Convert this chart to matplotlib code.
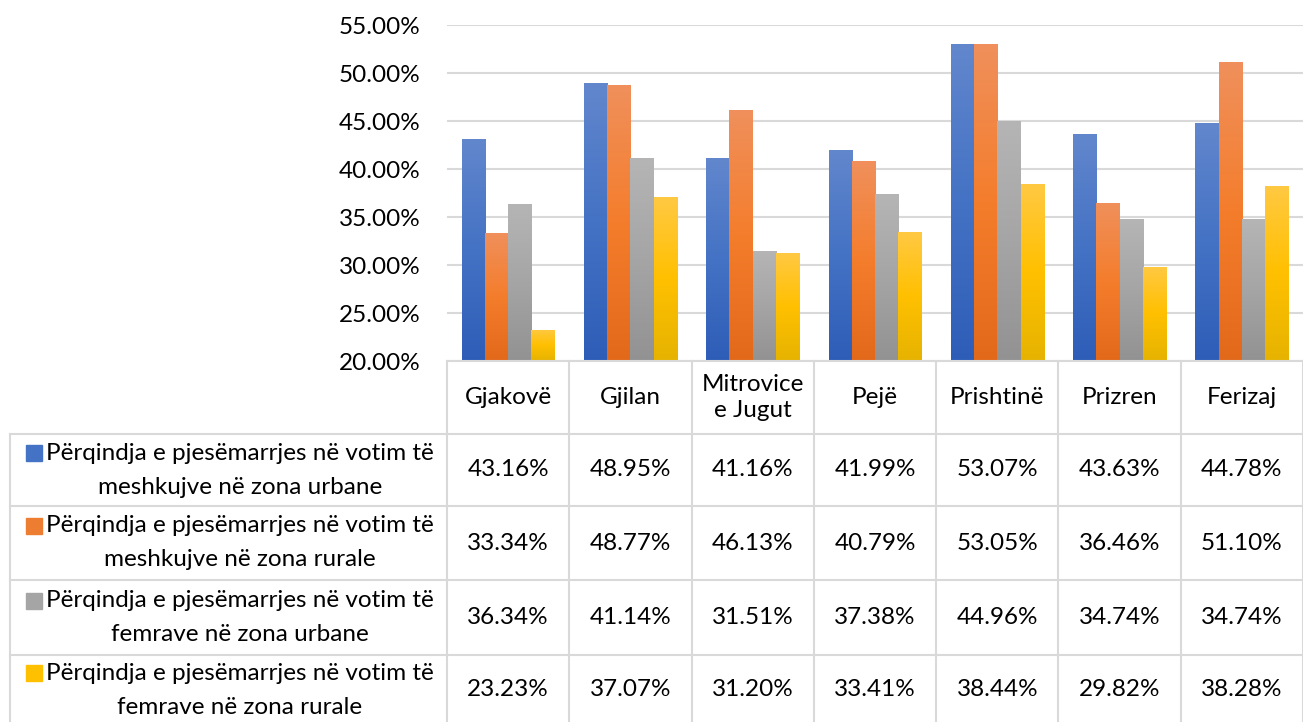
import numpy as np
import matplotlib
matplotlib.use("Agg")
import matplotlib.pyplot as plt
from matplotlib.patches import Rectangle
from matplotlib.colors import LinearSegmentedColormap
from matplotlib.ticker import PercentFormatter

plt.rcParams['font.family'] = ['Lato', 'DejaVu Sans']

cities = ["Gjakovë", "Gjilan", "Mitrovice\ne Jugut", "Pejë", "Prishtinë", "Prizren", "Ferizaj"]
series_names = [
    "Përqindja e pjesëmarrjes në votim të\nmeshkujve në zona urbane",
    "Përqindja e pjesëmarrjes në votim të\nmeshkujve në zona rurale",
    "Përqindja e pjesëmarrjes në votim të\nfemrave në zona urbane",
    "Përqindja e pjesëmarrjes në votim të\nfemrave në zona rurale",
]
men_urban = [0.4316, 0.4895, 0.4116, 0.4199, 0.5307, 0.4363, 0.4478]
men_rural = [0.3334, 0.4877, 0.4613, 0.4079, 0.5305, 0.3646, 0.5110]
women_urban = [0.3634, 0.4114, 0.3151, 0.3738, 0.4496, 0.3474, 0.3474]
women_rural = [0.2323, 0.3707, 0.3120, 0.3341, 0.3844, 0.2982, 0.3828]
series = [men_urban, men_rural, women_urban, women_rural]

# top, middle, bottom colours of each bar gradient
grads = [
    ["#6287cd", "#4472c4", "#2e5db8"],
    ["#f0905c", "#f47d2c", "#e2691a"],
    ["#b5b5b5", "#a5a5a5", "#929292"],
    ["#ffc943", "#ffc000", "#e6b300"],
]
legend_colors = ["#4472c4", "#ed7d31", "#a5a5a5", "#ffc000"]

W, H = 1303, 722
fig = plt.figure(figsize=(W / 100, H / 100), dpi=100)

# pixel layout (origin at top-left)
px_left, px_right = 447, 1303
px_top, px_bottom = 25, 361
ax = fig.add_axes([px_left / W, 1 - px_bottom / H,
                   (px_right - px_left) / W, (px_bottom - px_top) / H])

ymin, ymax = 0.20, 0.55
n = len(cities)
x = np.arange(n)
bw = 0.19
for i, vals in enumerate(series):
    cmap = LinearSegmentedColormap.from_list("g%d" % i, grads[i][::-1])
    grad = np.linspace(0, 1, 256).reshape(-1, 1)
    bars = ax.bar(x + (i - 1.5) * bw, vals, bw, color=legend_colors[i], zorder=2)
    for b, v in zip(bars, vals):
        x0 = b.get_x()
        im = ax.imshow(grad, cmap=cmap, origin="lower", aspect="auto",
                       extent=(x0, x0 + bw, ymin, v), zorder=3)
        im.set_clip_path(b)

fs = 17.5
ax.set_xlim(-0.5, n - 0.5)
ax.set_ylim(ymin, ymax)
ax.set_yticks(np.arange(0.20, 0.551, 0.05))
ax.yaxis.set_major_formatter(PercentFormatter(1.0, decimals=2))
ax.tick_params(axis="y", length=0, pad=19, labelsize=fs)
ax.set_xticks([])
ax.grid(axis="y", color="#d9d9d9", lw=1.5, zorder=0)
ax.set_axisbelow(True)
for s in ax.spines.values():
    s.set_visible(False)


def fx(px):
    return px / W


def fy(py):
    return 1 - py / H


line_kw = dict(color="#d9d9d9", lw=1.5, transform=fig.transFigure)
col_w = (px_right - px_left) / n
col_edges = [px_left + k * col_w for k in range(n + 1)]
row_edges = [434, 506, 580, 655, 730]

# data table grid
fig.add_artist(plt.Line2D([fx(px_left), fx(px_right)], [fy(px_bottom)] * 2, **line_kw))
for xe in col_edges:
    fig.add_artist(plt.Line2D([fx(xe)] * 2, [fy(px_bottom), fy(H + 5)], **line_kw))
for ye in row_edges[:-1]:
    fig.add_artist(plt.Line2D([fx(10), fx(px_right)], [fy(ye)] * 2, **line_kw))
fig.add_artist(plt.Line2D([fx(10)] * 2, [fy(434), fy(H + 5)], **line_kw))

for k, c in enumerate(cities):
    cx = (col_edges[k] + col_edges[k + 1]) / 2
    fig.text(fx(cx), fy((px_bottom + 434) / 2), c, ha="center", va="center",
             fontsize=fs, linespacing=1.35)

fig.canvas.draw()
renderer = fig.canvas.get_renderer()
for r in range(4):
    cy = (row_edges[r] + row_edges[r + 1]) / 2 if r < 3 else 690
    for k in range(n):
        cx = (col_edges[k] + col_edges[k + 1]) / 2
        fig.text(fx(cx), fy(cy), "%.2f%%" % (series[r][k] * 100),
                 ha="center", va="center", fontsize=fs)
    l1, l2 = series_names[r].split("\n")
    t1 = fig.text(fx(240), fy(cy - 17), l1, ha="center", va="center", fontsize=fs)
    fig.text(fx(240), fy(cy + 17), l2, ha="center", va="center", fontsize=fs)
    bb = t1.get_window_extent(renderer)
    sq = 16
    fig.add_artist(Rectangle((fx(bb.x0 - sq - 4), fy(cy - 17) - 8 / H), sq / W, sq / H,
                             transform=fig.transFigure, color=legend_colors[r]))

fig.savefig("out.png", dpi=100)
